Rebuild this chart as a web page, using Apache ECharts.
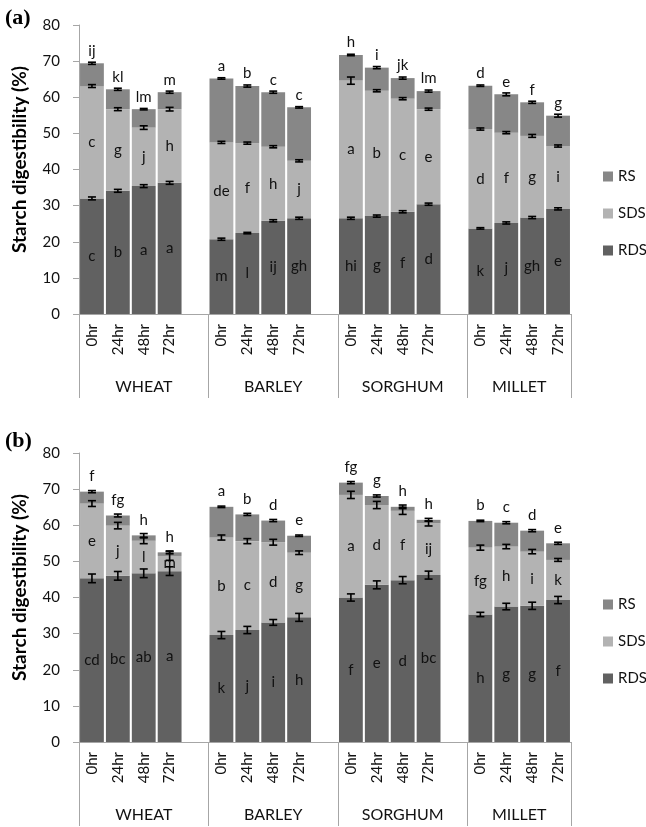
<!DOCTYPE html>
<html><head><meta charset="utf-8">
<script src="https://cdn.jsdelivr.net/npm/echarts@6/dist/echarts.min.js"></script>
<style>html,body{margin:0;padding:0;background:#fff}#c{width:646px;height:827px}</style>
</head><body><div id="c"></div>
<script>
const crops = ['WHEAT','BARLEY','SORGHUM','MILLET'];
const times = ['0hr','24hr','48hr','72hr'];
const yTicks = [0,10,20,30,40,50,60,70,80];

// Panel (a)
const aRDS = [32.0,34.1,35.4,36.3, 20.7,22.4,25.8,26.5, 26.5,27.1,28.3,30.4, 23.7,25.2,26.7,29.1];
const aSDS = [31.1,22.6,16.2,20.4, 26.8,24.9,20.5,15.9, 38.1,34.7,31.3,26.3, 27.5,25.0,22.6,17.4];
const aRS  = [6.3,5.5,5.1,4.7, 17.7,15.8,15.1,14.8, 7.1,6.4,5.7,5.0, 12.0,10.6,9.3,8.4];
const aErrRDS = [0.4,0.4,0.4,0.4, 0.3,0.2,0.3,0.3, 0.3,0.3,0.3,0.3, 0.2,0.3,0.3,0.3];
const aErrSDS = [0.4,0.4,0.5,0.5, 0.3,0.3,0.3,0.3, 1.0,0.3,0.3,0.3, 0.3,0.3,0.4,0.3];
const aErrRS  = [0.3,0.3,0.2,0.3, 0.2,0.3,0.3,0.2, 0.2,0.3,0.3,0.3, 0.2,0.4,0.3,0.4];
const aLetRDS = ['c','b','a','a', 'm','l','ij','gh', 'hi','g','f','d', 'k','j','gh','e'];
const aLetSDS = ['c','g','j','h', 'de','f','h','j', 'a','b','c','e', 'd','f','g','i'];
const aLetRS  = ['ij','kl','lm','m', 'a','b','c','c', 'h','i','jk','lm', 'd','e','f','g'];

// Panel (b)
const bRDS = [45.3,46.0,46.7,47.3, 29.6,31.0,33.1,34.5, 40.0,43.5,44.8,46.2, 35.3,37.5,37.7,39.3];
const bSDS = [20.7,13.9,9.0,4.2, 27.0,24.6,22.2,17.9, 28.4,22.1,19.2,14.3, 18.5,16.6,15.0,11.1];
const bRS  = [3.3,2.8,1.5,1.0, 8.5,7.4,6.0,4.7, 3.4,2.5,1.1,1.0, 7.4,6.6,5.8,4.6];
const bErrRDS = [1.2,1.2,1.2,1.2, 1.0,1.0,0.8,1.1, 1.0,1.1,1.0,1.1, 0.6,0.9,1.0,1.0];
const bErrSDS = [0.8,0.9,0.8,1.2, 0.7,0.7,0.8,0.5, 1.0,1.0,1.0,0.7, 0.7,0.6,0.6,0.4];
const bErrRS  = [0.3,0.4,0.5,0.4, 0.2,0.3,0.3,0.2, 0.3,0.3,0.5,0.4, 0.2,0.3,0.3,0.3];
const bLetRDS = ['cd','bc','ab','a', 'k','j','i','h', 'f','e','d','bc', 'h','g','g','f'];
const bLetSDS = ['e','j','l','m', 'b','c','d','g', 'a','d','f','ij', 'fg','h','i','k'];
const bLetRS  = ['f','fg','h','h', 'a','b','d','e', 'fg','g','h','h', 'b','c','d','e'];

const colRDS = '#616161', colSDS = '#b3b3b3', colRS = '#878787';
const FONT = 'Lato';
const axisGray = '#a6a6a6';

// expand 16 values into 19 slots (blank slot after each crop except last)
function expand(arr, blank) {
  const out = [];
  for (let c = 0; c < 4; c++) {
    for (let t = 0; t < 4; t++) out.push(arr[c*4+t]);
    if (c < 3) out.push(blank);
  }
  return out;
}
const cats = expand(crops.flatMap(() => times), '');
const groupSizes = [5,5,5,4];
const groupBounds = [0];
groupSizes.forEach(s => groupBounds.push(groupBounds[groupBounds.length-1] + s));
const nHalf = groupBounds[groupBounds.length-1]*2 + 1;
const groupData = new Array(nHalf).fill('');
crops.forEach((c, i) => { groupData[groupBounds[i]*2 + groupSizes[i]] = c; });
const sepIdx = groupBounds.map(b => b*2);

function errItem(params, api) {
  const x = api.value(0), v = api.value(1), e = api.value(2);
  const hi = api.coord([x, v + e]), lo = api.coord([x, v - e]);
  const hw = 4;
  const st = {stroke:'#000', lineWidth:1.6};
  return {type:'group', children:[
    {type:'line', shape:{x1:hi[0],y1:hi[1],x2:lo[0],y2:lo[1]}, style:st},
    {type:'line', shape:{x1:hi[0]-hw,y1:hi[1],x2:hi[0]+hw,y2:hi[1]}, style:st},
    {type:'line', shape:{x1:lo[0]-hw,y1:lo[1],x2:lo[0]+hw,y2:lo[1]}, style:st}
  ]};
}

function panelSeries(p, RDS, SDS, RS, eR, eS, eT, lR, lS, lT, topDist) {
  const r = expand(RDS, null), s = expand(SDS, null), t = expand(RS, null);
  const LR = expand(lR, ''), LS = expand(lS, ''), LT = expand(lT, '');
  const er = expand(eR, null), es = expand(eS, null), et = expand(eT, null);
  const errData = [];
  r.forEach((v, i) => {
    if (v === null) return;
    errData.push([i, v, er[i]]);
    errData.push([i, v + s[i], es[i]]);
    errData.push([i, v + s[i] + t[i], et[i]]);
  });
  const lbl = {fontFamily: FONT, fontSize: 15, color: '#111'};
  const base = {type:'bar', stack:'st'+p, xAxisIndex:p*2, yAxisIndex:p, barCategoryGap:'8%'};
  return [
    Object.assign({}, base, {name:'RDS', data:r, itemStyle:{color:colRDS},
      label:Object.assign({show:true, position:'inside', formatter:q => LR[q.dataIndex]}, lbl)}),
    Object.assign({}, base, {name:'SDS', data:s, itemStyle:{color:colSDS},
      label:Object.assign({show:true, position:'inside', formatter:q => LS[q.dataIndex]}, lbl)}),
    Object.assign({}, base, {name:'RS', data:t, itemStyle:{color:colRS},
      label:Object.assign({show:true, position:'top', distance:topDist, formatter:q => LT[q.dataIndex]}, lbl)}),
    {type:'custom', xAxisIndex:p*2, yAxisIndex:p, renderItem:errItem, data:errData,
      encode:{x:0, y:1}, z:10, silent:true}
  ];
}

function xAxes(g) {
  return [
    {type:'category', gridIndex:g, position:'bottom', data:cats,
      axisLine:{show:true, lineStyle:{color:axisGray, width:1}},
      axisTick:{show:false},
      axisLabel:{interval:0, rotate:90, margin:10, fontFamily:FONT, fontSize:15, color:'#111'}},
    {type:'category', gridIndex:g, position:'bottom', offset:0, boundaryGap:false, data:groupData,
      axisLine:{show:false},
      axisTick:{show:true, length:84, interval:(i) => sepIdx.includes(i), lineStyle:{color:axisGray}},
      axisLabel:{interval:0, margin:65, fontFamily:FONT, fontSize:16, color:'#111'}}
  ];
}
function yAxis(g) {
  return {type:'value', gridIndex:g, min:yTicks[0], max:yTicks[yTicks.length-1], interval:yTicks[1]-yTicks[0],
    name:'Starch digestibility (%)', nameLocation:'middle', nameGap:50, nameRotate:90,
    nameTextStyle:{fontFamily:FONT, fontSize:19, fontWeight:'bold', color:'#000', padding:[0,0,0,20]},
    axisLine:{show:true, lineStyle:{color:axisGray}},
    axisTick:{show:true, length:6, lineStyle:{color:axisGray}},
    splitLine:{show:false},
    axisLabel:{margin:19, fontFamily:FONT, fontSize:15, color:'#111'}};
}
function legend(top) {
  return {data:['RS','SDS','RDS'], orient:'vertical', left:598, top:top, icon:'rect',
    itemWidth:10, itemHeight:10, itemGap:22, selectedMode:false,
    textStyle:{fontFamily:FONT, fontSize:15, color:'#111'}};
}

const option = {
  animation:false,
  backgroundColor:'#fff',
  title:[
    {text:'(a)', left:0, top:2, textStyle:{fontFamily:'Liberation Serif', fontWeight:'bold', fontSize:22, color:'#000'}},
    {text:'(b)', left:0, top:425, textStyle:{fontFamily:'Liberation Serif', fontWeight:'bold', fontSize:22, color:'#000'}}
  ],
  legend:[legend(164), legend(592)],
  grid:[
    {left:79, top:25, width:492, height:289},
    {left:79, top:453, width:492, height:289}
  ],
  xAxis:[...xAxes(0), ...xAxes(1)],
  yAxis:[yAxis(0), yAxis(1)],
  series:[
    ...panelSeries(0, aRDS, aSDS, aRS, aErrRDS, aErrSDS, aErrRS, aLetRDS, aLetSDS, aLetRS, 5),
    ...panelSeries(1, bRDS, bSDS, bRS, bErrRDS, bErrSDS, bErrRS, bLetRDS, bLetSDS, bLetRS, 8)
  ]
};
const chart = echarts.init(document.getElementById('c'), null, {renderer:'canvas'});
chart.setOption(option);
</script></body></html>
